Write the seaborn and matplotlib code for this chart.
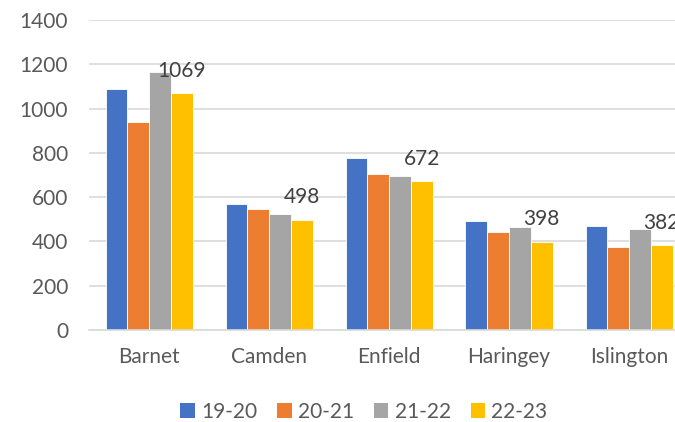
import matplotlib
matplotlib.use("Agg")
import matplotlib.pyplot as plt
import seaborn as sns
import pandas as pd
from matplotlib.patches import Patch

boroughs = ["Barnet", "Camden", "Enfield", "Haringey", "Islington"]
years = ["19-20", "20-21", "21-22", "22-23"]
v1920 = [1087, 567, 775, 492, 470]
v2021 = [940, 545, 704, 441, 373]
v2122 = [1166, 522, 697, 464, 456]
v2223 = [1069, 498, 672, 398, 382]
colors = ["#4472C4", "#ED7D31", "#A5A5A5", "#FFC000"]

rows = []
for yr, vals in zip(years, [v1920, v2021, v2122, v2223]):
    for b, v in zip(boroughs, vals):
        rows.append({"Borough": b, "Year": yr, "Value": v})
df = pd.DataFrame(rows)

sns.set_theme(style="white")
plt.rcParams['font.family'] = ['Lato', 'DejaVu Sans']

fig = plt.figure(figsize=(6.75, 4.22), dpi=100)
ax = fig.add_axes([89/675, 92/422, 600/675, 310/422])

sns.barplot(data=df, x="Borough", y="Value", hue="Year", order=boroughs,
            hue_order=years, palette=colors, width=0.725, ax=ax,
            edgecolor="white", linewidth=0.6, saturation=1, legend=False,
            errorbar=None)

ax.set_ylim(0, 1400)
ax.set_xlim(-0.5, 4.5)
ax.set_yticks(range(0, 1401, 200))
ax.yaxis.grid(True, color="#D9D9D9", linewidth=1.2)
ax.set_axisbelow(True)
for s in ["top", "right", "left"]:
    ax.spines[s].set_visible(False)
ax.spines["bottom"].set_color("#D9D9D9")
ax.spines["bottom"].set_linewidth(1.2)
ax.tick_params(axis="y", length=0, pad=15, labelsize=15, labelcolor="#595959")
ax.tick_params(axis="x", length=0, pad=12, labelsize=15, labelcolor="#595959")
ax.set_xlabel("")
ax.set_ylabel("")

ax.bar_label(ax.containers[3], labels=[str(v) for v in v2223], padding=9,
             fontsize=15, color="#404040")

handles = [Patch(facecolor=c, edgecolor="none") for c in colors]
fig.legend(handles, years, loc="center", bbox_to_anchor=(364/675, 1 - 412/422),
           ncol=4, frameon=False, fontsize=15, handlelength=0.7,
           handleheight=0.7, handletextpad=0.3, columnspacing=0.95,
           labelcolor="#595959")

fig.savefig("out.png", dpi=100)
